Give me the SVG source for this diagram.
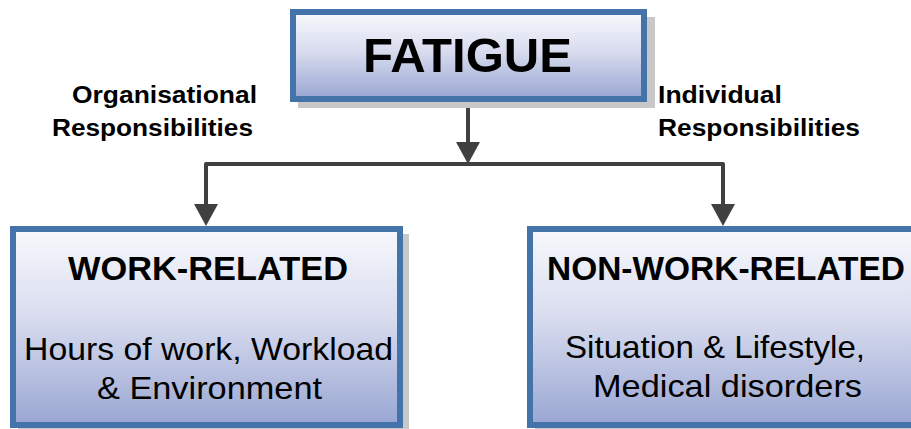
<svg xmlns="http://www.w3.org/2000/svg" width="911" height="429" viewBox="0 0 911 429">
  <defs>
    <linearGradient id="fill" x1="0" y1="0" x2="0" y2="1">
      <stop offset="0" stop-color="#f8f9fd"/>
      <stop offset="0.45" stop-color="#d8dcee"/>
      <stop offset="1" stop-color="#99a6d3"/>
    </linearGradient>
    <marker id="arrow" markerUnits="userSpaceOnUse" viewBox="0 0 22 24" markerWidth="22" markerHeight="24" refX="14" refY="12" orient="auto">
      <path d="M0,0 L22,12 L0,24 z" fill="#404040"/>
    </marker>
    <style>
      .shadow { fill: #c8c8c8; }
      .box { fill: url(#fill); stroke: #4373a8; stroke-width: 6; }
      .conn { fill: none; stroke: #404040; stroke-width: 4; stroke-linejoin: round; }
      .title { font-family: "Liberation Sans", Arial, sans-serif; font-weight: bold; fill: #000; }
      .head { font-family: "Liberation Sans", Arial, sans-serif; font-weight: bold; font-size: 33px; fill: #000; }
      .body { font-family: "Liberation Sans", Arial, sans-serif; font-size: 32px; fill: #000; }
      .lbl { font-family: "Liberation Sans", Arial, sans-serif; font-weight: bold; font-size: 23px; fill: #000; }
    </style>
  </defs>

  <g id="connectors">
    <path class="conn" d="M468,102 V156" marker-end="url(#arrow)"/>
    <path class="conn" d="M468,164 H206 V218" marker-end="url(#arrow)"/>
    <path class="conn" d="M468,164 H723 V218" marker-end="url(#arrow)"/>
  </g>

  <g id="fatigue">
    <rect class="shadow" x="298" y="17" width="357" height="91"/>
    <rect class="box" x="293" y="12" width="351" height="87"/>
    <text class="title" x="363" y="72" font-size="48" textLength="209" lengthAdjust="spacingAndGlyphs">FATIGUE</text>
  </g>

  <g id="label-organisational">
    <text class="lbl" x="72" y="103" textLength="185" lengthAdjust="spacingAndGlyphs">Organisational</text>
    <text class="lbl" x="52" y="136" textLength="201" lengthAdjust="spacingAndGlyphs">Responsibilities</text>
  </g>

  <g id="label-individual">
    <text class="lbl" x="658" y="103" textLength="124" lengthAdjust="spacingAndGlyphs">Individual</text>
    <text class="lbl" x="658" y="136" textLength="202" lengthAdjust="spacingAndGlyphs">Responsibilities</text>
  </g>

  <g id="work-related">
    <rect class="shadow" x="18" y="234" width="391" height="200"/>
    <rect class="box" x="13" y="229" width="387" height="196"/>
    <text class="head" x="68" y="280" textLength="280" lengthAdjust="spacingAndGlyphs">WORK-RELATED</text>
    <text class="body" x="24" y="360" textLength="369" lengthAdjust="spacingAndGlyphs">Hours of work, Workload</text>
    <text class="body" x="97" y="399" textLength="225" lengthAdjust="spacingAndGlyphs">&amp; Environment</text>
  </g>

  <g id="non-work-related">
    <rect class="shadow" x="535" y="234" width="400" height="200"/>
    <rect class="box" x="530" y="229" width="400" height="196"/>
    <text class="head" x="547" y="280" textLength="358" lengthAdjust="spacingAndGlyphs">NON-WORK-RELATED</text>
    <text class="body" x="565" y="358" textLength="300" lengthAdjust="spacingAndGlyphs">Situation &amp; Lifestyle,</text>
    <text class="body" x="593" y="397" textLength="269" lengthAdjust="spacingAndGlyphs">Medical disorders</text>
  </g>
</svg>
